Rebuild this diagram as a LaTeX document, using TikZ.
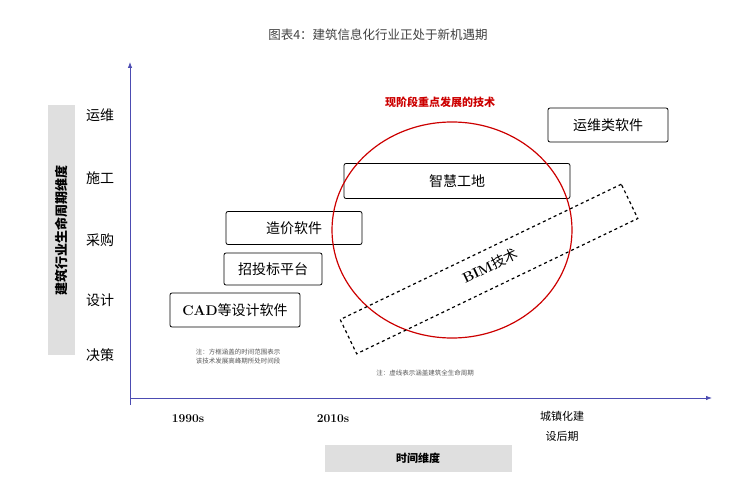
\documentclass[tikz,border=0pt]{standalone}
\usepackage{fontspec}
\newfontfamily\cjk{Noto Sans CJK SC}
\usetikzlibrary{arrows.meta}
\begin{document}
\begin{tikzpicture}[x=1pt,y=-1pt,font=\cjk,
  tbox/.style={draw,thick,rounded corners=2pt,font=\cjk\fontsize{14}{16}\selectfont},
  cat/.style={font=\cjk\fontsize{14}{16}\selectfont},
  note/.style={font=\cjk\fontsize{6.5}{9}\selectfont,text=gray!70!black,align=left},
  gbox/.style={fill=gray!25}]
\useasboundingbox (0,0) rectangle (756,500);
\node[text=black!75] (title) at (378,35) {\fontsize{12.5}{14}\selectfont 图表4：建筑信息化行业正处于新机遇期};
\coordinate (o) at (130,398);
\coordinate (yt) at (130,62);
\coordinate (xt) at (712,398);
\draw[-{Latex[length=6pt]},thick,blue!40!gray] (130,405) -- (yt);
\draw[-{Latex[length=6pt]},thick,blue!40!gray] (o) -- (xt);
\node[gbox,minimum width=27,minimum height=250] (ylab) at (61,230) {};
\node[rotate=90,font=\cjk\bfseries\fontsize{13}{15}\selectfont] at (ylab) {建筑行业生命周期维度};
\node[cat] (c1) at (100,115) {运维};
\node[cat] (c2) at (100,178) {施工};
\node[cat] (c3) at (100,240) {采购};
\node[cat] (c4) at (100,300) {设计};
\node[cat] (c5) at (100,355) {决策};
\node[tbox,minimum width=130,minimum height=34] (cad) at (235,310) {{\rmfamily\bfseries CAD}等设计软件};
\node[tbox,minimum width=98,minimum height=32] (zt) at (273,269) {招投标平台};
\node[tbox,minimum width=136,minimum height=33] (zj) at (294,228) {造价软件};
\node[tbox,minimum width=226,minimum height=35] (zh) at (457,181) {智慧工地};
\node[tbox,minimum width=120,minimum height=34] (yw) at (608,125) {运维类软件};
\draw[red!80!black,line width=1.2pt] (452,230) ellipse (120 and 108);
\node[text=red!80!black,font=\cjk\bfseries\fontsize{11}{13}\selectfont] (red) at (440,102) {现阶段重点发展的技术};
\node[draw,dashed,very thick,minimum width=312,minimum height=38,rotate=25.7] (bim) at (489,269) {};
\node[rotate=25.7,font=\cjk\fontsize{14}{16}\selectfont] at (490,266) {{\rmfamily\bfseries BIM}技术};
\node[note] (n1) at (238,357) {注：方框涵盖的时间范围表示\\该技术发展高峰期所处时间段};
\node[note] (n2) at (425,373) {注：虚线表示涵盖建筑全生命周期};
\node[font=\rmfamily\bfseries\fontsize{12}{14}\selectfont] (x1) at (188,419) {1990s};
\node[font=\rmfamily\bfseries\fontsize{12}{14}\selectfont] (x2) at (333,419) {2010s};
\node[align=center,font=\cjk\fontsize{11}{20}\selectfont] (x3) at (562,426) {城镇化建\\设后期};
\node[gbox,minimum width=187,minimum height=27,font=\cjk\bfseries\fontsize{11}{13}\selectfont] (xlab) at (418,458) {时间维度};
\end{tikzpicture}
\end{document}
